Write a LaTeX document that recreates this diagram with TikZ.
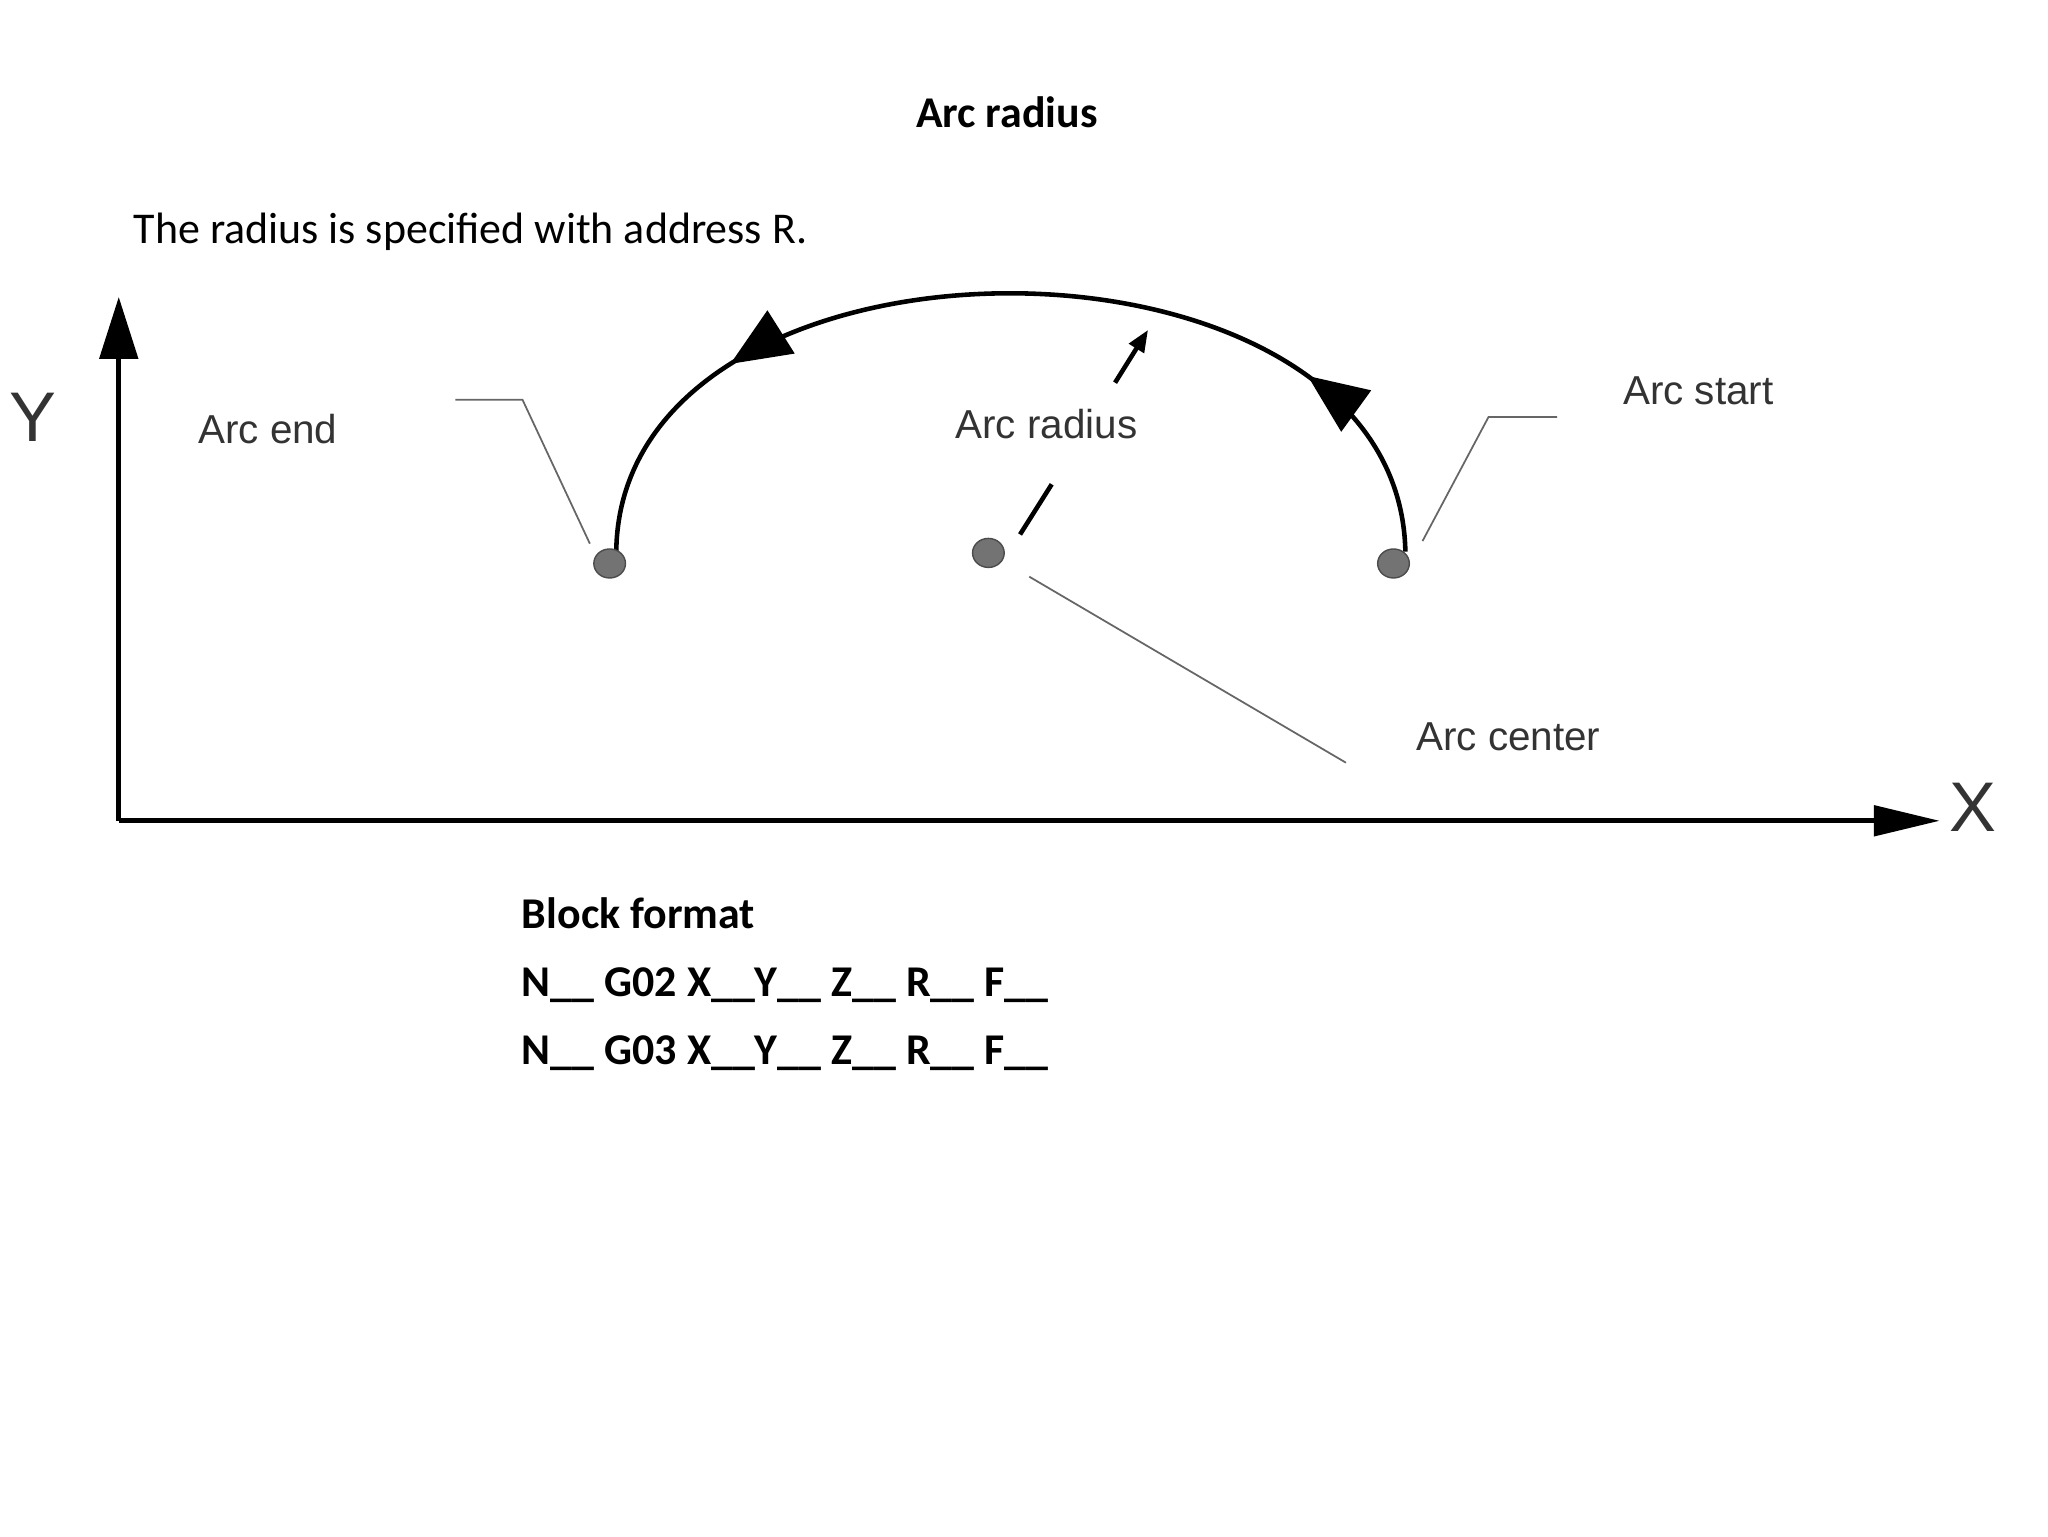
\documentclass[tikz,border=0pt]{standalone}
\usepackage{fontspec}
\setmainfont{Carlito}
\newfontfamily\arial{Liberation Sans}
\usetikzlibrary{arrows.meta,decorations.markings}
\begin{document}
\begin{tikzpicture}[x=0.0132cm,y=-0.0132cm,
  slide/.style={font=\fontsize{12.5}{15}\selectfont},
  lbl/.style={font=\arial\fontsize{11.5}{14}\selectfont,text=black!80},
  axlbl/.style={font=\arial\fontsize{20}{24}\selectfont,text=black!80},
  lead/.style={draw=black!60,line width=0.5pt},
  dot/.style={fill=black!55,draw=black!70,line width=0.4pt},
  axis/.style={line width=1.5pt,-{Triangle[length=0.66cm,width=0.3cm]}}]
\useasboundingbox (0,0) rectangle (1552,1164);
%Titel
  \node[slide,font=\bfseries\fontsize{12.5}{15}\selectfont] (title) at (763,85) {Arc radius};
  \node[slide,anchor=west] (intro) at (92,176) {The radius is specified with address R.};
%Achsen
  \coordinate (o) at (90,622);
  \coordinate (ytop) at (90,225);
  \coordinate (xend) at (1470,622);
  \draw[axis,-{Triangle[length=0.62cm,width=0.38cm]}] (o) -- (ytop);
  \draw[axis] (o) -- (xend);
  \node[axlbl] (ylbl) at (25,316) {Y};
  \node[axlbl] (xlbl) at (1495,612) {X};
%Bogen
  \coordinate (astart) at (1065,418);
  \coordinate (aend) at (467,418);
  \draw[line width=1.3pt,
    decoration={markings,
      mark=at position 0.2 with {\arrow{Triangle[length=0.6cm,width=0.5cm]}},
      mark=at position 0.78 with {\arrow{Triangle[length=0.6cm,width=0.5cm]}}},
    postaction={decorate}]
    (astart) .. controls (1060,157) and (470,157) .. (aend);
%Punkte
  \path[dot] (462,427) ellipse (12 and 11);
  \path[dot] (749,419) ellipse (12 and 11);
  \path[dot] (1056,427) ellipse (12 and 11);
%Radius
  \coordinate (r1) at (773,405);
  \coordinate (r2) at (797,367);
  \coordinate (r3) at (845,290);
  \coordinate (r4) at (870,250);
  \draw[line width=1.3pt] (r1) -- (r2);
  \draw[line width=1.3pt,-{Triangle[length=0.22cm,width=0.17cm]}] (r3) -- (r4);
  \node[lbl] (radlbl) at (793,321) {Arc radius};
%Beschriftung
  \node[lbl] (endlbl) at (203,325) {Arc end};
  \node[lbl] (startlbl) at (1287,296) {Arc start};
  \node[lbl] (cenlbl) at (1143,558) {Arc center};
  \draw[lead] (345,303) -- (396,303) -- (447,412);
  \draw[lead] (1180,316) -- (1128,316) -- (1078,410);
  \draw[lead] (780,437) -- (1020,578);
%Satzformat
  \node[slide,font=\bfseries\fontsize{12.5}{15}\selectfont,anchor=north west,align=left,inner sep=0pt] (block) at (395,680)
    {Block format\\[0.15cm]N\_\_ G02 X\_\_Y\_\_ Z\_\_ R\_\_ F\_\_\\[0.15cm]N\_\_ G03 X\_\_Y\_\_ Z\_\_ R\_\_ F\_\_};
\end{tikzpicture}
\end{document}
